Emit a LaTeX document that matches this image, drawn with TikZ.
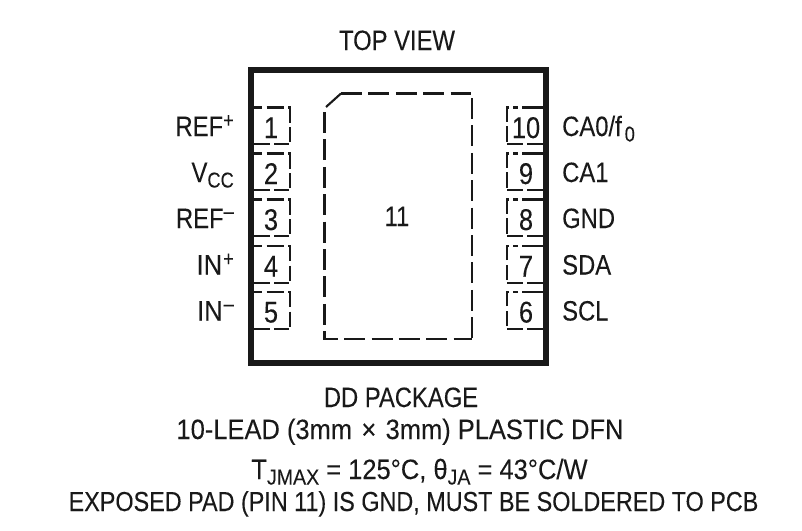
\documentclass[tikz,border=0pt]{standalone}
\usepackage{fontspec}
\setmainfont[FakeStretch=0.85,FakeBold=0.05]{Liberation Sans}
\newfontfamily\widefont[FakeStretch=0.91,FakeBold=0.05]{Liberation Sans}
\newcommand{\lowtxt}[1]{\raisebox{-5.5pt}{\fontsize{21.5}{21.5}\selectfont #1}}
\newcommand{\hightxt}[1]{\raisebox{8.5pt}{\fontsize{21.5}{21.5}\selectfont #1}}
\tikzset{
 x=1pt,y=-1pt,
 lbl/.style={inner sep=0pt,text=black!90,font=\fontsize{28}{28}\selectfont},
 num/.style={inner sep=0pt,text=black!90,font=\fontsize{30}{30}\selectfont},
 pad/.style={draw=black!90,line width=2.1pt,dash pattern=on 21pt off 6.4pt},
 solidedge/.style={draw=black!90,line width=2.1pt},
 pinbox/.style={draw=black!90,line width=2.1pt},
 pintop/.style={pinbox,dash pattern=on 17pt off 4.5pt,dash phase=9pt},
 pinside/.style={pinbox,dash pattern=on 15.5pt off 4.5pt},
 pinbot/.style={pinbox,dash pattern=on 16pt off 4pt},
}
\begin{document}
\begin{tikzpicture}
\useasboundingbox (0,0) rectangle (802,530);
\fill[white] (0,0) rectangle (802,530);
\node[draw=black!90,line width=6.5pt,minimum width=295pt,minimum height=293pt,inner sep=0pt] (pkg) at (398.5,216.5) {};
\node[lbl,anchor=base] (top) at (397,50) {TOP VIEW};
% exposed pad
\draw[solidedge] (326,107) -- (341,93.5);
\draw[pad] (341,93.5) -- (471,93.5);
\draw[pad] (472,98) -- (472,339);
\draw[pad] (324.5,112) -- (324.5,339) -- (472,339);
\node[lbl,anchor=base] (p11) at (397,226) {11};
% left pins
\foreach \n/\t/\l in {1/107.5/{REF\hightxt{+}},2/153.5/{V\lowtxt{CC}},3/199.5/{REF\hightxt{\raisebox{1pt}{–}}},4/246/{{\widefont IN}\kern1pt\hightxt{+}},5/292/{{\widefont IN}\kern1pt\hightxt{\raisebox{1pt}{–}}}}{
  \draw[pintop] (254,\t) -- (290,\t) -- (290,\t+34.5);
  \draw[pinbot] (254,\t+36.7) -- (289,\t+36.7);
  \node[num,anchor=base] (pin\n) at (271,\t+30.5) {\n};
  \node[lbl,anchor=base east] (name\n) at (234,\t+28.5) {\l};
}
% right pins
\foreach \n/\t/\l in {10/107.5/{CA0/f\kern3pt\lowtxt{0}},9/153.5/CA1,8/199.5/GND,7/246/SDA,6/292/SCL}{
  \draw[pinside] (507,\t+34) -- (507,\t) -- (518,\t);
  \draw[pinbox] (522,\t) -- (543,\t);
  \draw[pinbot] (507,\t+36.7) -- (543,\t+36.7);
  \node[num,anchor=base] (pin\n) at (526,\t+30.5) {\n};
  \node[lbl,anchor=base west] (name\n) at (562,\t+28.5) {\l};
}
\node[lbl,anchor=base] (c1) at (401,407) {DD PACKAGE};
\node[lbl,anchor=base,font=\widefont\fontsize{28}{28}\selectfont] (c2) at (400,439) {10-LEAD (3mm\,\,×\,\,3mm) PLASTIC DFN};
\node[lbl,anchor=base,font=\widefont\fontsize{28}{28}\selectfont] (c3) at (419.5,479) {T\lowtxt{JMAX} = 125°C, θ\lowtxt{JA} = 43°C/W};
\node[lbl,anchor=base,font=\fontsize{27.5}{28}\selectfont] (c4) at (413.5,511) {EXPOSED PAD (PIN 11) IS GND, MUST BE SOLDERED TO PCB};
\end{tikzpicture}
\end{document}
